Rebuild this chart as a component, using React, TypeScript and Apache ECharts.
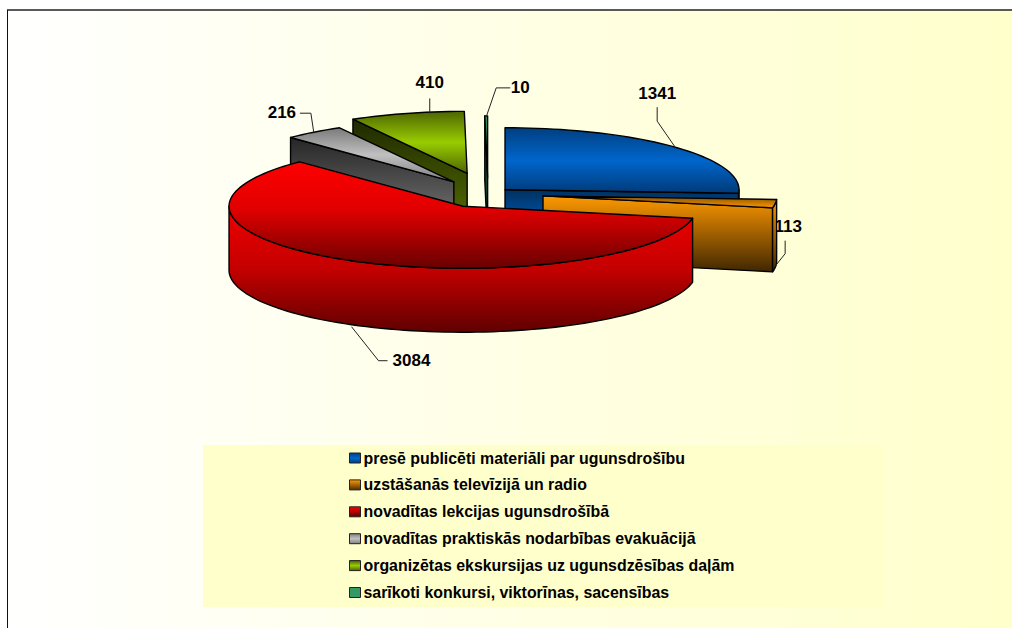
import React, { useEffect, useRef } from "react";
import * as echarts from "echarts";

const categories = [
  "presē publicēti materiāli par ugunsdrošību",
  "uzstāšanās televīzijā un radio",
  "novadītas lekcijas ugunsdrošībā",
  "novadītas praktiskās nodarbības evakuācijā",
  "organizētas ekskursijas uz ugunsdzēsības daļām",
  "sarīkoti konkursi, viktorīnas, sacensības",
];
const values = [1341, 113, 3084, 216, 410, 10];

// fraction of the radius each slice is pulled out of the pie
const explode = [0.1, 0.237, 0.224, 0.244, 0.345, 0.26];
// back-to-front painting order
const paintOrder = [5, 4, 3, 0, 1, 2];

const CX = 488, CY = 194, RX = 234, RY = 62, DEPTH = 64;
const FONT = '"Liberation Sans", Arial, sans-serif';

type Stops = [number, string][];
const topFill: Stops[] = [
  [[0, "#003f80"], [0.5, "#0066cc"], [1, "#003a78"]],
  [[0, "#7f4d00"], [1, "#ff9900"]],
  [[0, "#ff0000"], [0.45, "#e00000"], [1, "#6a0000"]],
  [[0, "#7a7a7a"], [0.5, "#c0c0c0"], [1, "#808080"]],
  [[0, "#4d6600"], [0.5, "#99cc00"], [1, "#4d6600"]],
  [[0, "#339966"], [1, "#1f5c3d"]],
];
const wallFill: Stops[] = [
  [[0, "#003060"], [0.5, "#0059b0"], [1, "#0066cc"]],
  [[0, "#ff9900"], [1, "#402600"]],
  [[0, "#f00000"], [0.5, "#c40000"], [1, "#600000"]],
  [[0, "#262626"], [0.65, "#666666"], [1, "#808080"]],
  [[0, "#1f2900"], [0.8, "#4d6600"], [1, "#5a7700"]],
  [[0, "#1f5c3d"], [1, "#0f3020"]],
];
const legendFill: Stops[] = [
  [[0, "#003f80"], [0.5, "#0066cc"], [1, "#003f80"]],
  [[0, "#ff9900"], [1, "#4d2e00"]],
  [[0, "#ff0000"], [1, "#600000"]],
  [[0, "#808080"], [0.5, "#c0c0c0"], [1, "#808080"]],
  [[0, "#4d6600"], [0.5, "#99cc00"], [1, "#4d6600"]],
  [[0, "#339966"], [1, "#339966"]],
];
// leader line and label, relative to the point where the slice's mid angle meets its rim
const leaders: [number, number][][] = [
  [[0, 0], [-18, -26], [-18, -40]],
  [[-2, 1], [10, -14], [10, -27]],
  [[0, 2], [27, 36], [36, 36]],
  [[0, 1], [-3, -19], [-14, -19]],
  [[23, 0], [23, -15]],
  [[0, 1], [10, -28], [24, -28]],
];
const labelAt: [number, number][] = [
  [-18, -54],
  [13, -41],
  [60, 36],
  [-32, -20],
  [23, -31],
  [34, -28],
];

const total = values.reduce((a, b) => a + b, 0);
const starts: number[] = [];
values.reduce((acc, v, i) => {
  starts[i] = (acc / total) * 360;
  return acc + v;
}, 0);

const rad = (d: number) => (d * Math.PI) / 180;
const grad = (stops: Stops) =>
  new echarts.graphic.LinearGradient(0, 0, 0, 1, stops.map(([offset, color]) => ({ offset, color })));

function renderSlice(i: number) {
  const s = starts[i];
  const e = s + (values[i] / total) * 360;
  const mid = (s + e) / 2;
  const ax = CX + explode[i] * RX * Math.sin(rad(mid));
  const ay = CY - explode[i] * RY * Math.cos(rad(mid));
  const rim = (d: number, dy = 0): [number, number] => [
    ax + RX * Math.sin(rad(d)),
    ay - RY * Math.cos(rad(d)) + dy,
  ];
  const arc = (a: number, b: number, dy = 0) => {
    const n = Math.max(2, Math.ceil(Math.abs(b - a) / 2));
    const pts: [number, number][] = [];
    for (let k = 0; k <= n; k++) pts.push(rim(a + ((b - a) * k) / n, dy));
    return pts;
  };
  const stroke = { stroke: "#000", lineWidth: 1.4, lineJoin: "round" };
  const children: any[] = [];

  // label under the slice's own faces
  const front = Math.cos(rad(mid)) < 0;
  const [bx, by] = rim(mid, front ? DEPTH : 0);
  const path = leaders[i].map(([dx, dy]) => [bx + dx, by + dy]);
  children.push({
    type: "text",
    style: {
      text: String(values[i]),
      x: bx + labelAt[i][0],
      y: by + labelAt[i][1],
      align: "center",
      verticalAlign: "middle",
      fill: "#000",
      font: `bold 17px ${FONT}`,
    },
  });

  const wall = (d: number) => {
    const p = rim(d);
    children.push({
      type: "polygon",
      shape: { points: [[ax, ay], p, [p[0], p[1] + DEPTH], [ax, ay + DEPTH]] },
      style: { fill: grad(wallFill[i]), ...stroke },
    });
  };
  if (s > 180) wall(s);
  if (e < 180) wall(e);

  const a = Math.max(s, 90);
  const b = Math.min(e, 270);
  if (a < b) {
    children.push({
      type: "polygon",
      shape: { points: [...arc(a, b), ...arc(b, a, DEPTH)] },
      style: { fill: grad(wallFill[i]), ...stroke },
    });
  }
  children.push({
    type: "polygon",
    shape: { points: [[ax, ay], ...arc(s, e)] },
    style: { fill: grad(topFill[i]), ...stroke },
  });
  children.push({
    type: "polyline",
    shape: { points: path },
    style: { fill: "none", stroke: "#222", lineWidth: 1 },
  });
  return { type: "group", children };
}

export default function App() {
  const ref = useRef<HTMLDivElement>(null);
  useEffect(() => {
    document.body.style.margin = "0";
    const chart = echarts.init(ref.current!, null, { renderer: "svg" });
    chart.setOption({
      animation: false,
      backgroundColor: "#ffffff",
      legend: {
        show: true,
        orient: "vertical",
        left: 349,
        top: 450,
        padding: 0,
        itemWidth: 11,
        itemHeight: 10,
        itemGap: 10.9,
        selectedMode: false,
        icon: "rect",
        textStyle: { fontFamily: FONT, fontWeight: "bold", fontSize: 15.9, color: "#000", padding: [0, 0, 0, -2] },
        data: categories.map((name, i) => ({
          name,
          itemStyle: { color: grad(legendFill[i]), borderColor: "#222", borderWidth: 1 },
        })),
      },
      graphic: {
        elements: [
          {
            type: "rect",
            z: 0,
            silent: true,
            shape: { x: 7, y: 10, width: 1005, height: 618 },
            style: {
              fill: new echarts.graphic.LinearGradient(0, 0, 1, 0, [
                { offset: 0, color: "#ffffff" },
                { offset: 1, color: "#ffffcc" },
              ]),
            },
          },
          { type: "line", z: 1, silent: true, shape: { x1: 7, y1: 10, x2: 1012, y2: 10 }, style: { stroke: "#222", lineWidth: 1.5 } },
          { type: "line", z: 1, silent: true, shape: { x1: 7.5, y1: 10, x2: 7.5, y2: 628 }, style: { stroke: "#111", lineWidth: 1 } },
          { type: "rect", z: 1, silent: true, shape: { x: 203, y: 445, width: 680, height: 162 }, style: { fill: "#ffffcc" } },
        ],
      },
      series: paintOrder.map((i, order) => ({
        type: "custom",
        name: categories[i],
        coordinateSystem: "none",
        z: 2 + order,
        silent: true,
        data: [values[i]],
        renderItem: () => renderSlice(i),
      })),
    });
    return () => chart.dispose();
  }, []);
  return <div ref={ref} style={{ width: 1012, height: 628 }} />;
}
